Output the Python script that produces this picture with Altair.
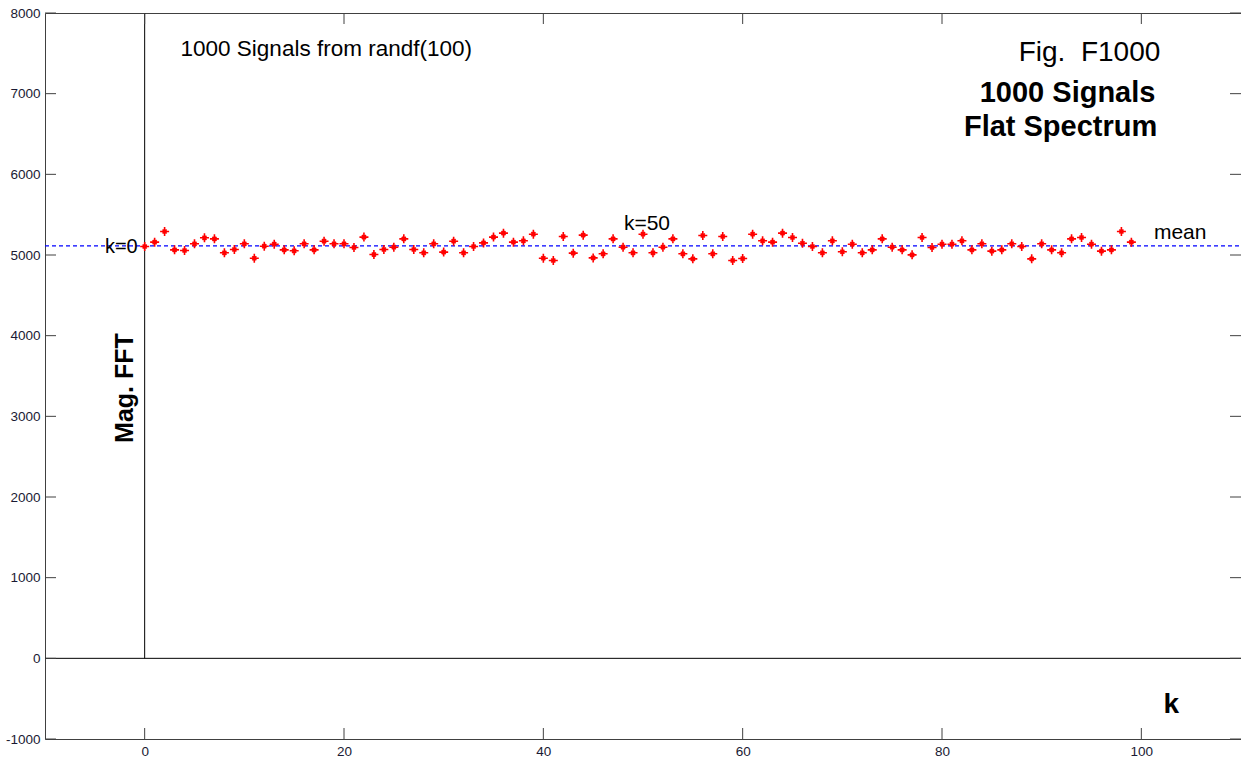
import altair as alt
import numpy as np
import pandas as pd

# FFT magnitude of the averaged spectrum, k = 0..99
k_index = list(range(100))
magnitude = [
    5105, 5159, 5291, 5064, 5056, 5139, 5213, 5200, 5027, 5068,
    5139, 4960, 5109, 5134, 5064, 5052, 5139, 5064, 5171, 5139,
    5139, 5093, 5222, 5006, 5068, 5097, 5200, 5068, 5027, 5139,
    5036, 5171, 5027, 5105, 5150, 5222, 5271, 5159, 5176, 5258,
    4960, 4932, 5229, 5023, 5246, 4964, 5015, 5200, 5097, 5027,
    5258, 5027, 5097, 5200, 5015, 4952, 5242, 5015, 5229, 4932,
    4956, 5258, 5176, 5159, 5271, 5217, 5146, 5105, 5027, 5176,
    5040, 5134, 5027, 5064, 5200, 5097, 5064, 5002, 5217, 5093,
    5134, 5134, 5176, 5064, 5139, 5048, 5064, 5139, 5105, 4952,
    5139, 5064, 5027, 5200, 5217, 5134, 5048, 5064, 5291, 5159,
]

x_ticks = [0, 20, 40, 60, 80, 100]
y_ticks = [-1000, 0, 1000, 2000, 3000, 4000, 5000, 6000, 7000, 8000]

W, H = 1196, 726
TICK = 11
FONT = "Liberation Sans"
LABEL_COLOR = "#1a1a33"

xs = alt.Scale(domain=[-10, 110], nice=False, zero=False)
ys = alt.Scale(domain=[-1000, 8000], nice=False, zero=False)
x_axis = alt.Axis(values=x_ticks, labelExpr="'' + datum.value", ticks=False, domain=False,
                  grid=False, title=None, labelFont=FONT, labelFontSize=13.5,
                  labelColor=LABEL_COLOR, labelPadding=5)
y_axis = alt.Axis(values=y_ticks, labelExpr="'' + datum.value", ticks=False, domain=False,
                  grid=False, title=None, labelFont=FONT, labelFontSize=13.5,
                  labelColor=LABEL_COLOR, labelPadding=5)


def X(field):
    return alt.X(field, type="quantitative", scale=xs, axis=x_axis)


def Y(field):
    return alt.Y(field, type="quantitative", scale=ys, axis=y_axis)


spec = pd.DataFrame({"k": k_index, "mag": magnitude})
mean_val = float(np.mean(magnitude))
mean_df = pd.DataFrame({"x0": [-10], "x1": [110], "m": [mean_val]})
xt = pd.DataFrame({"t": x_ticks})
yt = pd.DataFrame({"t": y_ticks})

# inward tick marks on all four sides
ticks_bottom = alt.Chart(xt).mark_rule(color="#404040").encode(
    x=X("t"), y=alt.value(H), y2=alt.value(H - TICK))
ticks_top = alt.Chart(xt).mark_rule(color="#404040").encode(
    x=X("t"), y=alt.value(0), y2=alt.value(TICK))
ticks_left = alt.Chart(yt).mark_rule(color="#404040").encode(
    y=Y("t"), x=alt.value(0), x2=alt.value(TICK))
ticks_right = alt.Chart(yt).mark_rule(color="#404040").encode(
    y=Y("t"), x=alt.value(W - TICK), x2=alt.value(W))

# k = 0 axis (vertical, down to zero) and zero line
zero_h = alt.Chart(pd.DataFrame({"x0": [-10], "x1": [110], "y": [0]})).mark_rule(
    color="black", strokeWidth=1).encode(x=X("x0"), x2="x1", y=Y("y"))
zero_v = alt.Chart(pd.DataFrame({"x": [0], "y0": [0], "y1": [8000]})).mark_rule(
    color="black", strokeWidth=1).encode(x=X("x"), y=Y("y0"), y2="y1")

mean_line = alt.Chart(mean_df).mark_rule(
    color="#0000ff", strokeWidth=1.2, strokeDash=[4, 3]).encode(x=X("x0"), x2="x1", y=Y("m"))

plus = "M-1,0L1,0M0,-1L0,1M-0.45,-0.45L0.45,0.45M-0.45,0.45L0.45,-0.45"
points = alt.Chart(spec).mark_point(
    shape=plus, filled=False, color="#ff0000", strokeWidth=1.6, size=81, opacity=1
).encode(x=X("k"), y=Y("mag"))


def label(text, x, y, size, align="center", baseline="alphabetic", weight="normal", angle=0):
    df = pd.DataFrame({"x": [x], "y": [y], "t": [text]})
    mk = dict(font=FONT, fontSize=size, align=align, baseline=baseline,
              fontWeight=weight, color="black")
    if angle:
        mk["angle"] = angle
    return alt.Chart(df).mark_text(**mk).encode(x=X("x"), y=Y("y"), text="t:N")


texts = [
    label("1000 Signals from randf(100)", 3.6, 7470, 22.5, align="left"),
    label("Fig.\u00a0\u00a0F1000", 94.8, 7409, 28),
    label("1000 Signals", 92.6, 6893, 29, weight="bold"),
    label("Flat Spectrum", 91.9, 6480, 29, weight="bold"),
    label("k=50", 50.4, 5315, 21),
    label("k=0", -0.7, 5100, 20, align="right", baseline="middle"),
    label("mean", 103.9, 5204, 21),
    label("Mag. FFT", -2.0, 3351, 25, baseline="middle", weight="bold", angle=270),
    label("k", 103.0, -582, 28, baseline="middle", weight="bold"),
]

chart = alt.layer(
    zero_h, zero_v, mean_line, ticks_bottom, ticks_top, ticks_left, ticks_right,
    points, *texts
).properties(
    width=W, height=H,
    autosize=alt.AutoSizeParams(type="none"),
    padding={"left": 45, "top": 13, "right": 0, "bottom": 22},
    background="white",
).configure_view(stroke="#404040", strokeWidth=1)

chart.save("out.html", embed_options={"renderer": "svg", "actions": False})
